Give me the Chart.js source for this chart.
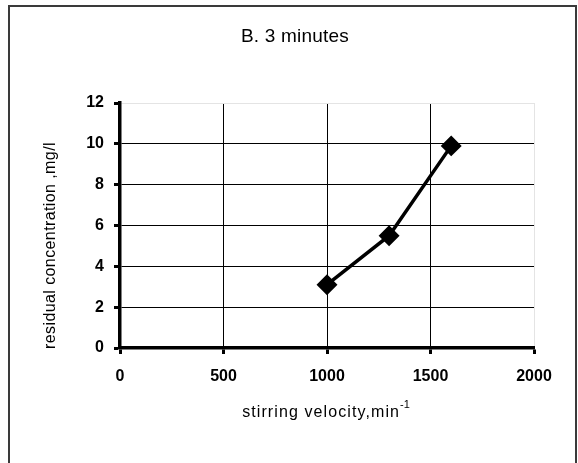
<!DOCTYPE html>
<html>
<head>
<meta charset="utf-8">
<script src="https://cdn.jsdelivr.net/npm/chart.js@4/dist/chart.umd.min.js"></script>
<style>
  html, body { margin: 0; padding: 0; background: #fff; }
  #wrap { position: relative; width: 578px; height: 463px; }
</style>
</head>
<body>
<div id="wrap"><canvas id="chart" width="578" height="463"></canvas></div>
<script>
  'use strict';

  const chartTitle = 'B. 3 minutes';
  const xTitle = 'stirring velocity,min';
  const xTitleSup = '-1';
  const yTitle = 'residual concentration ,mg/l';

  const velocity = [1000, 1300, 1600];
  const residual = [3.1, 5.5, 9.9];

  const xTicks = [0, 500, 1000, 1500, 2000];
  const yTicks = [0, 2, 4, 6, 8, 10, 12];

  const font = "'Liberation Sans', Arial, sans-serif";

  // frame, title and axis titles are painted by hand so the plot area stays put
  const decorations = {
    id: 'decorations',
    beforeDraw(chart) {
      const ctx = chart.ctx;
      ctx.save();
      ctx.fillStyle = '#fff';
      ctx.fillRect(0, 0, chart.width, chart.height);
      ctx.strokeStyle = '#3a3a3a';
      ctx.lineWidth = 2;
      ctx.beginPath();
      ctx.moveTo(9, chart.height + 2);
      ctx.lineTo(9, 6);
      ctx.lineTo(576, 6);
      ctx.lineTo(576, chart.height + 2);
      ctx.stroke();
      ctx.restore();
    },
    afterDraw(chart) {
      const ctx = chart.ctx;
      const area = chart.chartArea;
      ctx.save();
      ctx.fillStyle = '#000';
      ctx.textBaseline = 'middle';

      ctx.font = '19px ' + font;
      ctx.letterSpacing = '0.2px';
      ctx.textAlign = 'center';
      ctx.fillText(chartTitle, 295, 37);

      // x title with superscript exponent
      ctx.font = '16px ' + font;
      ctx.letterSpacing = '1.1px';
      ctx.textAlign = 'left';
      const mainW = ctx.measureText(xTitle).width;
      ctx.font = '11px ' + font;
      ctx.letterSpacing = '0px';
      const supW = ctx.measureText(xTitleSup).width;
      const x0 = 326 - (mainW + supW) / 2;
      ctx.font = '16px ' + font;
      ctx.letterSpacing = '1.1px';
      ctx.fillText(xTitle, x0, 413);
      ctx.font = '11px ' + font;
      ctx.letterSpacing = '0px';
      ctx.fillText(xTitleSup, x0 + mainW, 405);

      ctx.font = '16px ' + font;
      ctx.letterSpacing = '0.4px';
      ctx.textAlign = 'center';
      ctx.translate(51, (area.top + area.bottom) / 2 + 20);
      ctx.rotate(-Math.PI / 2);
      ctx.fillText(yTitle, 0, 0);
      ctx.restore();
    }
  };

  const tickFont = { family: font, size: 16, weight: 'bold' };

  new Chart(document.getElementById('chart'), {
    type: 'scatter',
    data: {
      datasets: [{
        data: velocity.map((v, i) => ({ x: v, y: residual[i] })),
        showLine: true,
        borderColor: '#000',
        backgroundColor: '#000',
        borderWidth: 3.5,
        pointStyle: 'rectRot',
        pointRadius: 8,
        pointHoverRadius: 8,
        tension: 0,
      }],
    },
    options: {
      responsive: false,
      animation: false,
      events: [],
      layout: { padding: { left: 0, top: 103, right: 44, bottom: 0 } },
      plugins: { legend: { display: false }, tooltip: { enabled: false } },
      scales: {
        x: {
          type: 'linear',
          min: xTicks[0],
          max: xTicks[xTicks.length - 1],
          afterBuildTicks: s => { s.ticks = xTicks.map(v => ({ value: v })); },
          afterFit: s => { s.height = 463 - 348; },
          grid: {
            color: c => c.tick && c.tick.value === 2000 ? '#e4e4e4' : '#000',
            lineWidth: 1,
            tickColor: '#000',
            tickWidth: 3,
            tickLength: 6,
          },
          border: { color: '#000', width: 3.5 },
          ticks: {
            color: '#000',
            padding: 13,
            maxRotation: 0,
            font: tickFont,
            callback: v => String(v),
          },
        },
        y: {
          type: 'linear',
          min: yTicks[0],
          max: yTicks[yTicks.length - 1],
          afterBuildTicks: s => { s.ticks = yTicks.map(v => ({ value: v })); },
          afterFit: s => { s.width = 120; },
          grid: {
            color: c => c.tick && c.tick.value === 12 ? '#e4e4e4' : '#000',
            lineWidth: 1,
            tickColor: '#000',
            tickWidth: 3,
            tickLength: 6,
          },
          border: { color: '#000', width: 3.5 },
          ticks: {
            color: '#000',
            padding: 10,
            font: tickFont,
            callback: v => String(v),
          },
        },
      },
    },
    plugins: [decorations],
  });
</script>
</body>
</html>
